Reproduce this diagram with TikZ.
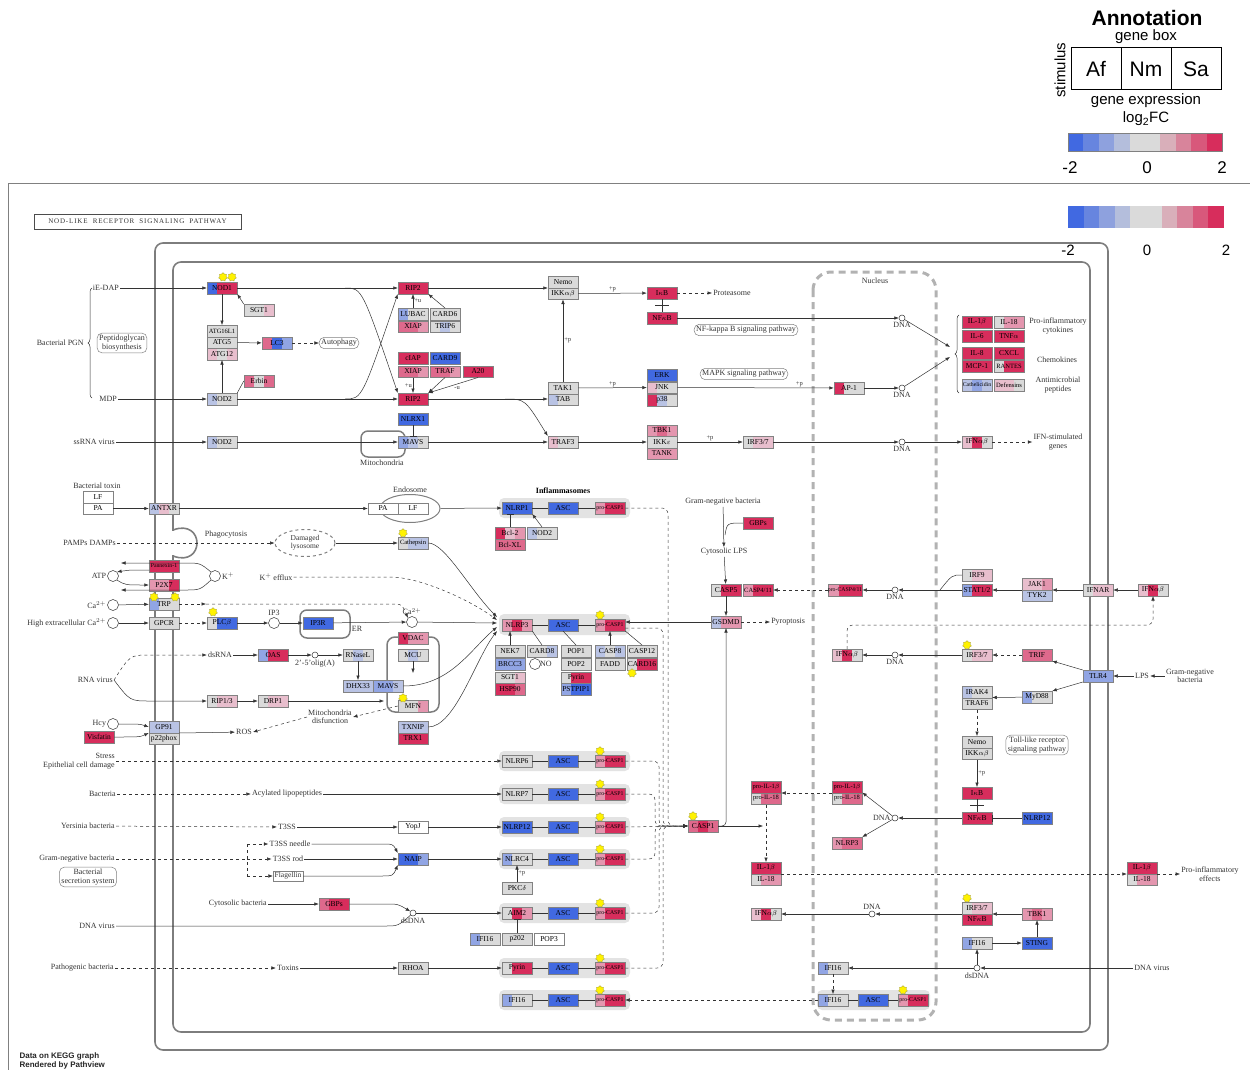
\documentclass[tikz,border=0pt]{standalone}
\usepackage{fontspec}
\setmainfont{Liberation Serif}
\setsansfont{Liberation Sans}
\usetikzlibrary{arrows.meta,calc,shapes.geometric,decorations.pathreplacing}

\definecolor{B4}{RGB}{65,105,225}
\definecolor{B3}{RGB}{105,135,228}
\definecolor{B2}{RGB}{145,165,228}
\definecolor{B1}{RGB}{185,195,228}
\definecolor{G}{RGB}{218,218,218}
\definecolor{R1}{RGB}{232,190,205}
\definecolor{R2}{RGB}{228,150,175}
\definecolor{R3}{RGB}{222,105,140}
\definecolor{R4}{RGB}{215,45,92}
\definecolor{W}{RGB}{255,255,255}
\definecolor{boxline}{RGB}{130,130,130}
\definecolor{memb}{RGB}{125,125,125}

\newcommand{\genefont}{\fontsize{7.5}{8}\selectfont}
\newcommand{\smallgene}{\fontsize{6.5}{7}\selectfont}
\newcommand{\tinygene}{\fontsize{5.8}{6}\selectfont}
\newcommand{\txtfont}{\fontsize{8}{8.5}\selectfont}

\tikzset{
  gene/.style n args={3}{draw=boxline, minimum width=30pt, minimum height=11.5pt,
    inner sep=0pt, font=\genefont, text=black,
    path picture={
      \fill[#1] (path picture bounding box.south west) rectangle
        ($(path picture bounding box.north west)!0.3333!(path picture bounding box.north east)$);
      \fill[#2] ($(path picture bounding box.south west)!0.3333!(path picture bounding box.south east)$) rectangle
        ($(path picture bounding box.north west)!0.6667!(path picture bounding box.north east)$);
      \fill[#3] ($(path picture bounding box.south west)!0.6667!(path picture bounding box.south east)$) rectangle
        (path picture bounding box.north east);
    }},
  txt/.style={font=\txtfont, inner sep=1pt, align=center},
  lbl/.style={font=\txtfont, inner sep=1pt},
  pathref/.style={draw=gray, rounded corners=5pt, font=\txtfont, align=center, inner sep=2pt},
  cpd/.style={circle, draw, fill=white, minimum size=6pt, inner sep=0pt},
  cpdbig/.style={circle, draw, fill=white, minimum size=11pt, inner sep=0pt},
  hit/.style={star, star points=7, star point ratio=1.4, fill=yellow, draw=yellow!60!black,
    line width=0.3pt, minimum size=9pt, inner sep=0pt},
  grp/.style={fill=gray!22, rounded corners=5pt},
  inh/.style={-{Bar[width=7pt]}},
  legtxt/.style={font=\sffamily\fontsize{15}{17}\selectfont, text=black},
}

\begin{document}
\begin{tikzpicture}[x=1pt,y=-1pt,color=black!80,line width=0.5pt,>={Latex[length=4.5pt,width=3.5pt]}]
\useasboundingbox (0,0) rectangle (1250,1070);

% legend
\node[font=\sffamily\bfseries\fontsize{21}{24}\selectfont, text=black] (anntitle) at (1147,18) {Annotation};
\node[legtxt] (annbox) at (1146,37) {gene box};
\draw[black, line width=1pt] (1071,48) rectangle (1221,90);
\draw[black, line width=1pt] (1121,48) -- (1121,90) (1171,48) -- (1171,90);
\node[legtxt, font=\sffamily\fontsize{21}{24}\selectfont] (af) at (1096,69) {Af};
\node[legtxt, font=\sffamily\fontsize{21}{24}\selectfont] (nm) at (1146,69) {Nm};
\node[legtxt, font=\sffamily\fontsize{21}{24}\selectfont] (sa) at (1196,69) {Sa};
\node[legtxt, rotate=90] (stim) at (1060,70) {stimulus};
\node[legtxt] (gexpr) at (1146,101) {gene expression};
\node[legtxt] (lfc) at (1146,119) {log\textsubscript{2}FC};
\foreach \c [count=\i from 0] in {B4,B4!75!G,B4!50!G,B4!25!G,G,G,R4!25!G,R4!50!G,R4!75!G,R4}
  \fill[\c] (1068+15.4*\i,133) rectangle ++(15.4,18);
\draw[gray] (1068,133) rectangle (1222,151);
\node[legtxt, font=\sffamily\fontsize{17}{19}\selectfont] at (1070,168) {-2};
\node[legtxt, font=\sffamily\fontsize{17}{19}\selectfont] at (1147,168) {0};
\node[legtxt, font=\sffamily\fontsize{17}{19}\selectfont] at (1222,168) {2};

% kegg frame
\draw[gray] (8,1070) -- (8,183) -- (1250,183);
\node[draw=black!70, font=\fontsize{7}{8}\selectfont\addfontfeature{LetterSpace=12}, minimum width=207pt, minimum height=15pt, inner sep=0pt] (title) at (137.5,221.5) {NOD-LIKE\ \ RECEPTOR\ \ SIGNALING\ \ PATHWAY};
\foreach \c [count=\i from 0] in {B4,B4!75!G,B4!50!G,B4!25!G,G,G,R4!25!G,R4!50!G,R4!75!G,R4}
  \fill[\c] (1068+15.6*\i,206) rectangle ++(15.6,22);
\node[legtxt] at (1068,250) {-2};
\node[legtxt] at (1147,250) {0};
\node[legtxt] at (1226,250) {2};
\node[font=\sffamily\bfseries\fontsize{8}{9.5}\selectfont, align=left, anchor=west, text=black!85] (credit) at (16,1061) {Data on KEGG graph\\Rendered by Pathview};

% membranes and nucleus
\draw[memb, line width=1.6pt, rounded corners=8pt] (155,243) rectangle (1108,1050);
\draw[memb, line width=1.6pt, rounded corners=8pt] (173,262) rectangle (1090,1032);
\fill[white] (170,531) rectangle (176,555);
\draw[memb, line width=1.6pt] (173,530) .. controls (205,518) and (205,568) .. (173,556);
\draw[gray!60, line width=3pt, dash pattern=on 7pt off 5pt, rounded corners=18pt] (813,272) rectangle (936,1020);
\node[txt] (nucleus) at (875,281) {Nucleus};

% compartments
\draw[memb, line width=1.5pt, rounded corners=7pt] (361,431) rectangle (405,457);
\draw[memb, line width=1.5pt, rounded corners=7pt] (300,610) rectangle (350,638);
\draw[memb, line width=1.5pt, rounded corners=8pt] (387,637) rectangle (439,712);
\fill[grp] (499,498) rectangle (630,518);
\fill[grp] (499,614) rectangle (630,635);
\fill[grp] (817,990) rectangle (930,1010);

% NOD1 / NOD2
\node[gene={B4}{R4}{R4}] (nod1) at (222,288) {NOD1};
\node[hit] at (223,277) {};
\node[hit] at (232,277) {};
\node[gene={G}{G}{R1}] (sgt1a) at (259,310) {SGT1};
\node[gene={G}{G}{G}, font=\smallgene] (atg16) at (222,331) {ATG16L1};
\node[gene={G}{G}{G}] (atg5) at (222,342.5) {ATG5};
\node[gene={R1}{G}{R1}] (atg12) at (222,354) {ATG12};
\node[gene={R3}{B4}{B2}] (lc3) at (277,343) {LC3};
\node[gene={R3}{G}{R3}] (erbin) at (259,381) {Erbin};
\node[gene={B1}{G}{G}] (nod2a) at (222,399) {NOD2};
\node[gene={B1}{G}{G}] (nod2b) at (222,442) {NOD2};
\node[pathref] (autoph) at (339,343) {Autophagy};
\node[txt, anchor=east] (iedap) at (120,288) {iE-DAP};
\node[txt, anchor=east] (mdp) at (118,399) {MDP};
\node[txt, anchor=east] (ssrna) at (116,442) {ssRNA virus};
\node[txt, anchor=east] (pgn) at (85,343) {Bacterial PGN};
\node[pathref] (pgnbio) at (122,343) {Peptidoglycan\\biosynthesis};
\draw[decorate, decoration={brace, amplitude=4pt}] (92,398) -- (92,288);

% RIP2
\node[gene={R4}{R4}{R4}] (rip2a) at (413,288) {RIP2};
\node[gene={B2}{G}{G}] (lubac) at (413,314) {LUBAC};
\node[gene={G}{G}{G}] (card6) at (445,314) {CARD6};
\node[gene={R3}{R3}{R2}] (xiapa) at (413,326.5) {XIAP};
\node[gene={G}{B1}{G}] (trip6) at (445,326.5) {TRIP6};
\node[gene={R4}{R4}{R4}] (ciap) at (413,358) {cIAP};
\node[gene={B4}{B4}{B4}] (card9) at (445,358) {CARD9};
\node[gene={R3}{R3}{R2}] (xiapb) at (413,371.5) {XIAP};
\node[gene={R3}{R3}{R2}] (traf) at (445,371.5) {TRAF};
\node[gene={R4}{R4}{R4}] (a20) at (478,371.5) {A20};
\node[gene={R4}{R4}{R4}] (rip2b) at (413,399) {RIP2};
\node[gene={B4}{B4}{B4}] (nlrx1) at (413,419) {NLRX1};
\node[gene={B2}{B1}{G}] (mavsa) at (413,442) {MAVS};
\node[txt] (mito1) at (382,463) {Mitochondria};
\node[gene={G}{G}{G}] (nemoa) at (563,282) {Nemo};
\node[gene={G}{G}{G}] (ikka) at (563,293.5) {IKK$\alpha\beta$};
\node[gene={G}{G}{G}] (tak1) at (563,388) {TAK1};
\node[gene={B1}{G}{G}] (tab) at (563,399.5) {TAB};
\node[gene={R1}{G}{G}] (traf3) at (563,442) {TRAF3};
\node[gene={R4}{R4}{R4}] (ikba) at (662,293) {I$\kappa$B};
\node[gene={R4}{R4}{R4}] (nfkba) at (662,318) {NF$\kappa$B};
\node[gene={B4}{B4}{B4}] (erk) at (662,375) {ERK};
\node[gene={R1}{G}{G}] (jnk) at (662,387.5) {JNK};
\node[gene={R4}{B1}{G}] (p38) at (662,400) {p38};
\node[gene={R2}{R3}{R2}] (tbk1a) at (662,430.5) {TBK1};
\node[gene={G}{G}{G}] (ikke) at (662,442) {IKK$\varepsilon$};
\node[gene={R2}{R2}{R2}] (tank) at (662,453.5) {TANK};
\node[gene={G}{R1}{R1}] (irf37a) at (758,442) {IRF3/7};
\node[gene={R4}{G}{G}] (ap1) at (849,388) {AP-1};
\node[lbl, anchor=west] (proteas) at (712,293) {Proteasome};
\node[pathref] (nfpath) at (746,330) {NF-kappa B signaling pathway};
\node[pathref] (mapk) at (744,374) {MAPK signaling pathway};
\node[cpd, label={[lbl]below:DNA}] (dna1) at (902,318) {};
\node[cpd, label={[lbl]below:DNA}] (dna2) at (902,388) {};
\node[cpd, label={[lbl]below:DNA}] (dna3) at (902,442) {};
\coordinate (cytin1) at (950,347);
\coordinate (cytin2) at (950,357);

% cytokines
\node[gene={R4}{R4}{R4}] (il1ba) at (977,322) {IL-1$\beta$};
\node[gene={G}{R2}{R2}] (il18a) at (1009,322) {IL-18};
\node[gene={R4}{R4}{R4}] (il6) at (977,336) {IL-6};
\node[gene={R4}{R4}{R4}] (tnfa) at (1009,336) {TNF$\alpha$};
\node[gene={R4}{R4}{R4}] (il8) at (977,353) {IL-8};
\node[gene={R4}{R4}{R4}] (cxcl) at (1009,353) {CXCL};
\node[gene={R4}{R4}{R4}] (mcp1) at (977,366) {MCP-1};
\node[gene={G}{R4}{R4}, font=\smallgene] (rantes) at (1009,366) {RANTES};
\node[gene={B1}{B2}{B1}, font=\tinygene] (cathel) at (977,385) {Cathelicidin};
\node[gene={R1}{R1}{G}, font=\smallgene] (defens) at (1009,385) {Defensins};
\node[txt] (procyt) at (1058,326) {Pro-inflammatory\\cytokines};
\node[txt] (chemo) at (1057,360) {Chemokines};
\node[txt] (antimic) at (1058,385) {Antimicrobial\\peptides};
\node[gene={R1}{R4}{G}] (ifnab1) at (977,442) {IFN$\alpha\beta$};
\node[txt] (isg) at (1058,442) {IFN-stimulated\\genes};
\draw[decorate, decoration={brace, amplitude=4pt}] (959,393) -- (959,315);

% toxin, phagocytosis, ion channels
\node[txt] (btoxin) at (97,486) {Bacterial toxin};
\node[gene={W}{W}{W}] (lf1) at (98,497) {LF};
\node[gene={W}{W}{W}] (pa1) at (98,508.5) {PA};
\node[gene={B1}{R1}{G}] (antxr) at (164,508.5) {ANTXR};
\node[txt, anchor=east] (pamps) at (117,543) {PAMPs DAMPs};
\node[txt] (phago) at (226,535) {Phagocytosis};
\node[ellipse, draw=gray, dashed, line width=1pt, minimum width=60pt, minimum height=27pt,
  font=\genefont, align=center, inner sep=0pt] (lyso) at (305,543) {Damaged\\lysosome};
\node[gene={G}{B1}{B1}, font=\smallgene] (cathep) at (413,543) {Cathepsin};
\node[hit] at (403,533) {};
\node[ellipse, draw=gray, line width=1pt, minimum width=60pt, minimum height=28pt,
  label={[lbl]above:Endosome}] (endo) at (410,508.5) {};
\node[gene={W}{W}{W}] (pa2) at (383,508.5) {PA};
\node[gene={W}{W}{W}] (lf2) at (413,508.5) {LF};
\node[gene={R4}{R4}{R4}, font=\tinygene] (panx) at (164,566) {Pannexin-1};
\node[gene={R2}{R2}{R4}] (p2x7) at (164,585) {P2X7};
\node[cpdbig, label={[lbl]left:ATP}] (atp) at (113,576) {};
\node[cpdbig, label={[lbl]right:K$^+$}] (kplus) at (215,576) {};
\node[txt] (kefflux) at (276,577) {K$^+$ efflux};
\node[gene={B2}{G}{G}] (trp) at (164,604) {TRP};
\node[hit] at (154,597) {};
\node[hit] at (175,597) {};
\node[cpdbig, label={[lbl]left:Ca$^{2+}$}] (ca1) at (113,605) {};
\node[gene={G}{G}{G}] (gpcr) at (164,623) {GPCR};
\node[cpdbig, label={[lbl]left:High extracellular Ca$^{2+}$}] (ca2) at (113,623) {};
\node[gene={G}{B4}{B4}] (plcb) at (222,623) {PLC$\beta$};
\node[hit] at (213,612) {};
\node[cpdbig, label={[lbl]above:IP3}] (ip3) at (274,623) {};
\node[gene={B4}{B4}{B4}] (ip3r) at (318,623) {IP3R};
\node[lbl] (er) at (357,629) {ER};
\node[cpdbig, label={[lbl]above:Ca$^{2+}$}] (ca3) at (412,622) {};
\node[gene={R4}{R2}{R2}] (vdac) at (413,638) {VDAC};
\node[gene={G}{B1}{G}] (mcu) at (413,655) {MCU};
\coordinate (mcuend) at (413,673);
\node[lbl] (dsrna) at (220,655) {dsRNA};
\node[gene={B2}{R4}{R4}] (oas) at (273,655) {OAS};
\node[cpd, label={[lbl]below:2'-5'olig(A)}] (olig) at (315,655) {};
\node[gene={G}{B1}{G}] (rnasel) at (358,655) {RNaseL};
\node[gene={B1}{B1}{B1}] (dhx33) at (358,686) {DHX33};
\node[gene={B2}{B2}{B1}] (mavsb) at (388,686) {MAVS};
\node[txt, anchor=east] (rnavir) at (114,680) {RNA virus};
\node[gene={G}{R1}{R1}] (rip13) at (222,701) {RIP1/3};
\node[gene={G}{R1}{R1}] (drp1) at (273,701) {DRP1};
\coordinate (drpend) at (384,701);
\node[gene={G}{G}{R2}] (mfn) at (413,706) {MFN};
\node[hit] at (403,698) {};
\node[txt] (mitodis) at (330,717) {Mitochondria\\disfunction};
\node[cpdbig, label={[lbl]left:Hcy}] (hcy) at (113,724) {};
\node[gene={R4}{R4}{R4}] (visf) at (99,737) {Visfatin};
\node[gene={B1}{B1}{B1}] (gp91) at (164,727) {GP91};
\node[gene={G}{G}{G}] (p22) at (164,738.5) {p22phox};
\node[lbl] (ros) at (244,732) {ROS};
\node[gene={B1}{B1}{B1}] (txnip) at (413,727) {TXNIP};
\node[gene={R4}{R4}{R4}] (trx1) at (413,738.5) {TRX1};

% inflammasomes
\node[font=\txtfont\bfseries, text=black] (inflam) at (563,491) {Inflammasomes};
\node[gene={B4}{B4}{B4}] (nlrp1) at (517,508) {NLRP1};
\node[gene={B4}{B4}{B4}] (asc1) at (563,508) {ASC};
\node[gene={R2}{R4}{R4}, font=\tinygene] (pc1) at (610,508) {pro-CASP1};
\node[gene={R4}{R1}{R2}] (bcl2) at (510,533) {Bcl-2};
\node[gene={R3}{R3}{R3}] (bclxl) at (510,544.5) {Bcl-XL};
\node[gene={B1}{G}{G}] (nod2c) at (542,533) {NOD2};
\node[gene={R2}{R4}{R2}] (nlrp3a) at (517,625) {NLRP3};
\node[gene={B4}{B4}{B4}] (asc2) at (563,625) {ASC};
\node[gene={R2}{R4}{R4}, font=\tinygene] (pc2) at (610,625) {pro-CASP1};
\node[hit] at (600,615) {};
\node[gene={G}{G}{G}] (nek7) at (510,651) {NEK7};
\node[gene={G}{G}{B1}] (card8) at (542,651) {CARD8};
\node[gene={B2}{B2}{B2}] (brcc3) at (510,664) {BRCC3};
\node[cpdbig, label={[lbl, xshift=-2pt]right:NO}] (no) at (535,664) {};
\node[gene={G}{G}{R1}] (sgt1b) at (510,677.5) {SGT1};
\node[gene={R4}{R4}{R3}] (hsp90) at (510,689) {HSP90};
\node[gene={G}{G}{G}] (pop1) at (576,651) {POP1};
\node[gene={G}{G}{G}] (pop2) at (576,664) {POP2};
\node[gene={G}{R4}{R4}] (pyrina) at (576,677.5) {Pyrin};
\node[gene={B2}{B4}{B4}] (pstpip) at (576,689) {PSTPIP1};
\node[gene={B1}{G}{B1}] (casp8) at (610,651) {CASP8};
\node[gene={G}{G}{G}] (fadd) at (610,664) {FADD};
\node[gene={G}{G}{G}] (casp12) at (642,651) {CASP12};
\node[gene={G}{R4}{R4}] (card16) at (642,664) {CARD16};
\node[hit] at (632,673) {};

\foreach \y/\n in {761/3,794/4,827/5,859/6,913/7,968/8,1000/9} {
  \fill[grp] (499,\y-10) rectangle (630,\y+10);
  \node[gene={B4}{B4}{B4}] (asc\n) at (563,\y) {ASC};
  \node[gene={R2}{R4}{R4}, font=\tinygene] (pc\n) at (610,\y) {pro-CASP1};
  \node[hit] at (600,\y-10) {};
}
\node[gene={G}{G}{G}] (nlrp6) at (517,761) {NLRP6};
\node[gene={G}{G}{G}] (nlrp7) at (517,794) {NLRP7};
\node[gene={B4}{B4}{B4}] (nlrp12a) at (517,827) {NLRP12};
\node[gene={B2}{G}{G}] (nlrc4) at (517,859) {NLRC4};
\node[gene={G}{R4}{R2}] (aim2) at (517,913) {AIM2};
\node[gene={G}{R4}{R4}] (pyrinb) at (517,968) {Pyrin};
\node[gene={B2}{G}{G}] (ifi16a) at (517,1000) {IFI16};
\node[gene={G}{G}{G}] (pkcd) at (517,888) {PKC$\delta$};
\node[gene={B2}{G}{G}] (ifi16b) at (485,939) {IFI16};
\node[gene={G}{G}{G}] (p202) at (517,939) {p202};
\node[gene={W}{W}{W}] (pop3) at (549,939) {POP3};

% pathogens, lower left
\node[txt, anchor=east, align=right] (stress) at (116,761) {Stress\\Epithelial cell damage};
\node[txt, anchor=east] (bact) at (117,794) {Bacteria};
\node[lbl] (acyl) at (287,794) {Acylated lipopeptides};
\node[txt, anchor=east] (yers) at (116,826) {Yersinia bacteria};
\node[lbl] (t3ss) at (287,827) {T3SS};
\node[gene={W}{W}{W}] (yopj) at (413,827) {YopJ};
\node[txt, anchor=east] (gneg1) at (116,859) {Gram-negative bacteria};
\node[pathref] (secsys) at (88,877) {Bacterial\\secretion system};
\coordinate (gsplit) at (247,859);
\node[lbl] (needle) at (290,844) {T3SS needle};
\node[lbl] (rod) at (288,859) {T3SS rod};
\node[draw=boxline, font=\genefont, inner sep=1.5pt] (flag) at (288,876) {Flagellin};
\node[gene={B4}{B4}{B2}] (naip) at (413,859) {NAIP};
\node[txt, anchor=east] (cytob) at (268,904) {Cytosolic bacteria};
\node[gene={R3}{R4}{R4}] (gbpsa) at (334,904) {GBPs};
\node[cpd, label={[lbl]below:dsDNA}] (dsdna1) at (413,913) {};
\node[txt, anchor=east] (dnav1) at (116,926) {DNA virus};
\node[txt, anchor=east] (patho) at (115,968) {Pathogenic bacteria};
\node[lbl] (toxins) at (288,968) {Toxins};
\node[gene={G}{G}{G}] (rhoa) at (413,968) {RHOA};

% pyroptosis, interferon side
\node[txt] (gneg2) at (723,502) {Gram-negative bacteria};
\node[gene={R4}{R4}{R4}] (gbpsb) at (758,523) {GBPs};
\coordinate (lpsjoin) at (725,535);
\node[txt] (cytolps) at (724,552) {Cytosolic LPS};
\node[gene={G}{R4}{R4}] (casp5) at (726,590) {CASP5};
\node[gene={R2}{R4}{R4}, font=\smallgene] (casp411) at (758,590) {CASP4/11};
\node[gene={R2}{R4}{R4}, font=\tinygene, minimum width=34pt] (pc411) at (845,590) {pro-CASP4/11};
\node[cpd, label={[lbl]below:DNA}] (dna6) at (895,590) {};
\node[gene={B1}{R2}{R2}] (gsdmd) at (726,622) {GSDMD};
\node[lbl, anchor=west] (pyro) at (770,622) {Pyroptosis};
\node[gene={R1}{R4}{G}] (ifnab3) at (847,655) {IFN$\alpha\beta$};
\node[cpd, label={[lbl]below:DNA}] (dna7) at (895,655) {};
\node[gene={G}{R1}{R1}] (irf9) at (977,575) {IRF9};
\node[gene={B2}{R4}{R4}] (stat12) at (977,590) {STAT1/2};
\node[gene={R1}{R1}{R2}] (jak1) at (1037,584) {JAK1};
\node[gene={B1}{B1}{B1}] (tyk2) at (1037,595.5) {TYK2};
\node[gene={G}{R1}{R1}] (ifnar) at (1098,590) {IFNAR};
\node[gene={R1}{R4}{G}] (ifnab4) at (1153,590) {IFN$\alpha\beta$};
\node[gene={G}{R1}{R1}] (irf37b) at (977,655) {IRF3/7};
\node[hit] at (967,645) {};
\node[gene={R3}{R3}{R3}] (trif) at (1037,655) {TRIF};
\node[gene={B2}{B2}{B2}] (tlr4) at (1098,676) {TLR4};
\node[lbl] (lps) at (1142,676) {LPS};
\node[txt] (gneg3) at (1190,676) {Gram-negative\\bacteria};
\node[gene={B2}{G}{G}] (myd88) at (1037,697) {MyD88};
\node[gene={B1}{G}{G}] (irak4) at (977,692) {IRAK4};
\node[gene={G}{G}{G}] (traf6) at (977,703.5) {TRAF6};
\node[pathref] (tollpath) at (1037,745) {Toll-like receptor\\signaling pathway};
\node[gene={G}{G}{G}] (nemob) at (977,742) {Nemo};
\node[gene={G}{G}{G}] (ikkb) at (977,753.5) {IKK$\alpha\beta$};
\node[gene={R4}{R4}{R4}] (ikbb) at (977,793) {I$\kappa$B};
\node[gene={R4}{R4}{R4}] (nfkbb) at (977,818) {NF$\kappa$B};
\node[gene={B4}{B4}{B4}] (nlrp12b) at (1037,818) {NLRP12};

% IL-1 processing
\node[gene={R3}{R4}{R3}] (casp1) at (703,826) {CASP1};
\node[hit] at (693,816) {};
\node[gene={R4}{R4}{R4}, font=\smallgene] (pil1bc) at (766,787) {pro-IL-1$\beta$};
\node[gene={G}{R3}{R3}, font=\smallgene] (pil18c) at (766,798.5) {pro-IL-18};
\node[gene={R4}{R4}{R4}, font=\smallgene] (pil1bn) at (847,787) {pro-IL-1$\beta$};
\node[gene={G}{R3}{R3}, font=\smallgene] (pil18n) at (847,798.5) {pro-IL-18};
\node[gene={R2}{R3}{R3}] (nlrp3b) at (847,843) {NLRP3};
\node[cpd, label={[lbl]left:DNA}] (dna4) at (895,818) {};
\coordinate (cleave) at (763,826);
\node[gene={R4}{R4}{R4}] (il1bc) at (766,868) {IL-1$\beta$};
\node[gene={G}{R2}{R2}] (il18c) at (766,879.5) {IL-18};
\node[gene={R1}{R4}{G}] (ifnab2) at (766,914) {IFN$\alpha\beta$};
\node[cpd, label={[lbl]above:DNA}] (dna5) at (872,914) {};
\node[gene={G}{R1}{R1}] (irf37c) at (977,908) {IRF3/7};
\node[hit] at (967,898) {};
\node[gene={R4}{R4}{R4}] (nfkbc) at (977,919.5) {NF$\kappa$B};
\node[gene={R2}{R3}{R2}] (tbk1b) at (1037,914) {TBK1};
\node[gene={B2}{G}{G}] (ifi16e) at (977,943) {IFI16};
\node[gene={B4}{B4}{B4}] (sting) at (1037,943) {STING};
\node[cpd, label={[lbl]below:dsDNA}] (dsdna2) at (977,968) {};
\node[lbl, anchor=west] (dnav2) at (1133,968) {DNA virus};
\node[gene={B2}{G}{G}] (ifi16c) at (833,968) {IFI16};
\node[gene={B2}{G}{G}] (ifi16d) at (833,1000) {IFI16};
\node[gene={B4}{B4}{B4}] (asc10) at (873,1000) {ASC};
\node[gene={R2}{R4}{R4}, font=\tinygene] (pc10) at (913,1000) {pro-CASP1};
\node[hit] at (903,990) {};
\node[gene={R4}{R4}{R4}] (il1bo) at (1142,868) {IL-1$\beta$};
\node[gene={G}{R2}{R2}] (il18o) at (1142,879.5) {IL-18};
\node[txt] (proeff) at (1210,874) {Pro-inflammatory\\effects};

% --- connectors, top
\draw[->] (iedap) -- (nod1);
\draw[->] (mdp) -- (nod2a);
\draw[->] (ssrna) -- (nod2b);
\draw[->] (nod1) -- (atg16);
\draw[->] (nod2a) -- (atg12);
\draw[->] (sgt1a.north west) -- (nod1.south east);
\draw (erbin.west) -- (nod2a.north east);
\draw[->] (atg5) -- (lc3);
\draw[->, dashed] (lc3) -- (autoph);
\draw[->] (nod1) -- (rip2a);
\draw[->] (nod2a) -- (rip2b);
\draw[->] (345,288) .. controls (362,288) .. (rip2b.north west);
\draw[->] (345,399) .. controls (362,399) .. (rip2a.south west);
\draw[->] (lubac) -- node[lbl, right, font=\smallgene] {+u} (rip2a);
\draw[->] (card6.north) -- (rip2a.south east);
\draw[->] (xiapb) -- node[lbl, left, font=\smallgene] {+u} (rip2b);
\draw[->] (traf.south) -- (rip2b.north east);
\draw[->] (a20.south) -- node[lbl, below right, font=\smallgene] {-u} (rip2b.north east);
\draw[->] (rip2a) -- (rip2a -| nemoa.west);
\draw[->] (rip2b) -- (rip2b -| tab.west);
\draw[->] (tak1) -- node[lbl, right, font=\smallgene] {+p} (ikka);
\draw[->] (505,399) .. controls (525,399) .. (traf3.north west);
\draw[inh] (nlrx1) -- (mavsa);
\draw[->] (nod2b) -- (mavsa);
\draw[->] (mavsa) -- (traf3);
\draw[->] (ikka.east) -- node[lbl, above, font=\smallgene] {+p} (ikba);
\draw (ikba) -- (nfkba) coordinate[midway] (dis1);
\draw ($(dis1)+(-7,0)$) -- ($(dis1)+(7,0)$);
\draw[->, dashed] (ikba) -- (proteas);
\draw[->] (nfkba) -- (dna1);
\draw[->] (tak1) -- node[lbl, above, font=\smallgene] {+p} (jnk);
\draw[->] (jnk) -- node[lbl, above, pos=0.78, font=\smallgene] {+p} (ap1);
\draw[->] (ap1) -- (dna2);
\draw[->] (traf3) -- (ikke);
\draw[->] (ikke) -- node[lbl, above, font=\smallgene] {+p} (irf37a);
\draw[->] (irf37a) -- (dna3);
\draw[->] (dna1) -- (cytin1);
\draw[->] (dna2) -- (cytin2);
\draw[->] (dna3) -- (ifnab1);
\draw[->, dashed] (ifnab1) -- (isg);

% --- connectors, middle left
\draw[->] (pa1) -- (antxr);
\draw[->] (antxr) -- (pa2);
\draw[->] (endo) -- (nlrp1);
\draw[->, dashed] (pamps) -- (lyso);
\draw[->] (lyso) -- (cathep);
\draw[->] (kplus.north west) .. controls (200,563) .. (185,563) -- (121,563);
\draw[->] (kplus.south west) .. controls (200,590) .. (185,590) -- (121,590);
\draw[->] (149,570) .. controls (128,570) .. (atp.north east);
\draw[->] (atp.south east) .. controls (125,585) .. (p2x7.west);
\draw[->] (ca1) -- (trp);
\draw[->, dashed] (trp) -- (206,604);
\draw[->, dashed] (206,604) -- (390,604) .. controls (402,604) .. (ca3.north west);
\draw[->] (ca2) -- (gpcr);
\draw[->, dashed] (gpcr) -- (plcb);
\draw[->] (plcb) -- (ip3);
\draw[->] (ip3) -- (ip3r);
\draw[->] (ip3r) -- (ca3);
\draw[->] (mcu) -- (mcuend);
\draw[->, dashed] (rnavir.east) .. controls (130,655) .. (150,655) -- (dsrna);
\draw[->] (rnavir.east) .. controls (130,701) .. (150,701) -- (rip13);
\draw[->] (dsrna) -- (oas);
\draw[->] (oas) -- (olig);
\draw[->] (olig) -- (rnasel);
\draw[->] (rnasel) -- (dhx33);
\draw[->] (rip13) -- (drp1);
\draw[->] (drp1) -- (drpend);
\draw[->, dashed] (mfn.west) -- (mitodis.east);
\draw[->, dashed] (mitodis.west) -- (ros.east);
\draw[->] (hcy) .. controls (140,724) .. (gp91.west);
\draw[->] (visf.east) .. controls (140,737) .. (gp91.south west);
\draw[->] (gp91.south east) -- (ros);

% --- into NLRP3
\draw[->] (cathep.east) .. controls (445,543) and (470,590) .. (497,617);
\draw[->, dashed] (kefflux.east) -- (390,577) .. controls (420,577) and (470,600) .. (497,620);
\draw[->] (ca3) -- (497,623);
\draw[->] (mavsb.east) .. controls (450,686) and (470,650) .. (497,627);
\draw[->] (txnip.east) .. controls (455,727) and (475,660) .. (497,631);

% --- inflammasome bonds
\foreach \a/\n in {nlrp1/1,nlrp3a/2,nlrp6/3,nlrp7/4,nlrp12a/5,nlrc4/6,aim2/7,pyrinb/8,ifi16a/9,ifi16d/10}
  \draw (\a) -- (asc\n) -- (pc\n);
\draw[inh] (bcl2.north) -- (bcl2.north |- nlrp1.south);
\draw[->] (nod2c.north) -- (nlrp1.south east);
\draw[->] (nek7) -- (nek7 |- nlrp3a.south);
\draw (card8.north) -- (nlrp3a.south east);
\draw (pop1.north) -- (asc2.south);
\draw[->] (casp8) -- (pc2);
\draw (casp12.north) -- (pc2.south east);
\draw[->, dashed] (stress) -- (nlrp6);
\draw[->, dashed] (bact) -- (acyl);
\draw[->] (acyl) -- (nlrp7);
\draw[->, dashed] (yers) -- (t3ss);
\draw[->] (t3ss) -- (yopj);
\draw[->] (yopj) -- (nlrp12a);
\draw[dashed] (gneg1) -- (gsplit);
\draw[dashed] (247,844) -- (247,876);
\draw[->, dashed] (247,844) -- (needle);
\draw[->, dashed] (gsplit) -- (rod);
\draw[->, dashed] (247,876) -- (flag);
\draw[->] (needle) -- (380,844) .. controls (393,844) .. (naip.north west);
\draw[->] (rod) -- (naip);
\draw[->] (flag) -- (380,876) .. controls (393,876) .. (naip.south west);
\draw[->] (naip) -- (nlrc4);
\draw[->] (pkcd) -- node[lbl, right, font=\smallgene] {+p} (nlrc4);
\draw[->] (cytob) -- (gbpsa);
\draw[->] (gbpsa) -- (385,904) .. controls (398,904) .. (dsdna1);
\draw (dnav1) -- (385,926) .. controls (398,926) .. (dsdna1);
\draw[->] (dsdna1) -- (aim2);
\draw[inh] (p202) -- (aim2);
\draw[->, dashed] (patho) -- (toxins);
\draw[->] (toxins) -- (rhoa);
\draw[->] (rhoa) -- (pyrinb);

% --- pro-CASP1 to CASP1
\draw[->, dashed, rounded corners=6pt] (pc1.east) -- (668,508) -- (668,826) -- (casp1.west);
\draw[->, dashed, rounded corners=6pt] ([yshift=-3pt]pc2.east) -- (663,628) -- (663,826) -- (casp1.west);
\draw[->, dashed, rounded corners=6pt] (pc3.east) -- (659,761) -- (659,826) -- (casp1.west);
\draw[->, dashed, rounded corners=6pt] (pc4.east) -- (655,794) -- (655,826) -- (casp1.west);
\draw[->, dashed] (pc5.east) -- (casp1.west);
\draw[->, dashed, rounded corners=6pt] (pc6.east) -- (655,859) -- (655,826) -- (casp1.west);
\draw[->, dashed, rounded corners=6pt] (pc7.east) -- (659,913) -- (659,826) -- (casp1.west);
\draw[->, dashed, rounded corners=6pt] (pc8.east) -- (663,968) -- (663,826) -- (casp1.west);
\draw[->, dashed] (ifi16d.west) -- (pc9.east);

% --- right side
\draw[->] (gneg2) -- (cytolps);
\draw (gbpsb.west) .. controls (727,523) .. (lpsjoin);
\draw[->] (cytolps) -- (casp5);
\draw[->] (casp5) -- (gsdmd);
\draw[->, dashed] (gsdmd) -- (pyro);
\draw[->] (gsdmd.west) -- (gsdmd.west -| pc2.east);
\draw[->, rounded corners=4pt] (casp1.east) -| (gsdmd.south);
\draw[->, dashed] (pc411) -- (casp411);
\draw[->] (dna6) -- (pc411);
\draw[->] (stat12) -- (dna6);
\draw (irf9.west) .. controls (952,575) .. (940,590);
\draw[->] (jak1.south west) -- (stat12.east);
\draw[->] (ifnar) -- (jak1.south east);
\draw[->] (ifnab4) -- (ifnar);
\draw[->, dashed, rounded corners=6pt] (ifnab3.north) -- (847,625) -- (1153,625) -- (ifnab4.south);
\draw[->] (irf37b) -- (dna7);
\draw[->] (dna7) -- (ifnab3);
\draw[->, dashed] (trif) -- (irf37b);
\draw[->] (tlr4.north west) -- (trif.south east);
\draw[->] (tlr4.south west) -- (myd88.north east);
\draw[->] (lps) -- (tlr4);
\draw[->] (gneg3) -- (lps);
\draw[->] (myd88) -- (traf6.north east);
\draw[->, dashed] (traf6) -- (nemob);
\draw[->] (ikkb) -- node[lbl, right, font=\smallgene] {+p} (ikbb);
\draw (ikbb) -- (nfkbb) coordinate[midway] (dis2);
\draw ($(dis2)+(-7,0)$) -- ($(dis2)+(7,0)$);
\draw[inh] (nlrp12b) -- (nfkbb);
\draw[->] (nfkbb) -- (dna4);
\draw[->] (dna4) -- (pil18n.north east);
\draw[->] (dna4) -- (nlrp3b.north east);
\draw[->, dashed] (pil1bn.south west) -- (pil1bc.south east);
\draw[->] (casp1.east) -- (cleave);
\draw[->, dashed] (pil18c) -- (il1bc);
\draw[->, dashed] (il1bc.south east) -- (il1bo.south west);
\draw[->, dashed] (il1bo.south east) -- (proeff);
\draw[->] (irf37c.south west) -- (dna5);
\draw[->] (dna5) -- (ifnab2);
\draw[->] (tbk1b) -- (irf37c.south east);
\draw[->] (ifi16e) -- (sting);
\draw[->] (sting) -- (tbk1b);
\draw[->] (dnav2) -- (dsdna2);
\draw[->] (dsdna2) -- (ifi16e);
\draw[->] (dsdna2) -- (ifi16c);
\draw[->, dashed] (ifi16c) -- (ifi16d);
\end{tikzpicture}
\end{document}
